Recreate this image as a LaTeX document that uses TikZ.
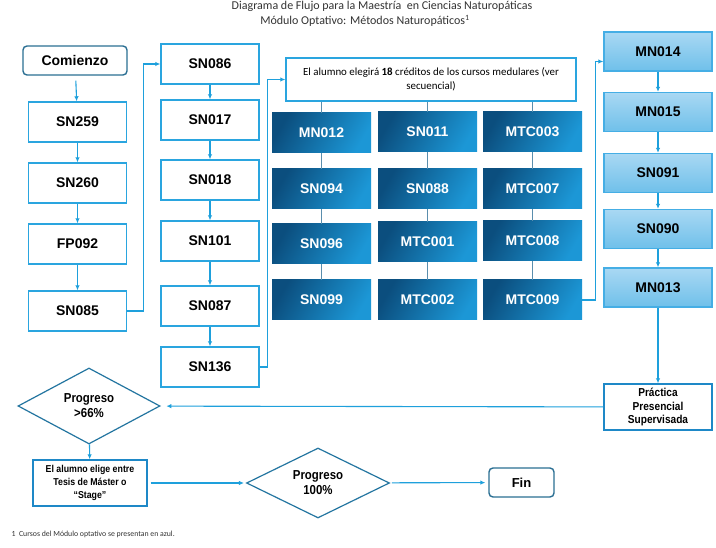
\documentclass[tikz,border=0pt]{standalone}
\usepackage{fontspec}
\setmainfont{Liberation Sans}
\newfontfamily\calibri{Carlito}
\newfontfamily\narrow[FakeStretch=0.88]{Liberation Sans}
\usetikzlibrary{arrows.meta,shapes.geometric}
\definecolor{flowblue}{HTML}{1EA0DC}
\definecolor{boxblue}{HTML}{2AA5DF}
\definecolor{midblue}{HTML}{1E88C7}
\definecolor{termblue}{HTML}{2B6F93}
\definecolor{diablue}{HTML}{2375A0}
\definecolor{deepA}{HTML}{0B4E7E}
\definecolor{deepB}{HTML}{1C97D6}
\definecolor{paleA}{HTML}{A9D8F3}
\definecolor{paleB}{HTML}{6FC0EA}
\definecolor{paleline}{HTML}{45AEE5}
\definecolor{gridline}{HTML}{5A8EAD}
\definecolor{titlegray}{HTML}{333333}

\begin{document}
\begin{tikzpicture}[x=1pt,y=-1pt,
	course/.style={draw=boxblue,line width=1.4pt,fill=white,minimum width=98pt,minimum height=40pt,inner sep=0pt,font=\fontsize{14}{16}\selectfont\bfseries},
	term/.style={course,draw=termblue,rounded corners=4pt,minimum width=104pt,minimum height=29pt},
	core/.style={minimum width=99pt,minimum height=40pt,inner sep=0pt,left color=deepA,right color=deepB,shading angle=60,text=white,font=\fontsize{14}{16}\selectfont\bfseries},
	optional/.style={course,draw=paleline,top color=paleA,bottom color=paleB,minimum width=108pt,minimum height=39pt},
	decision/.style={diamond,aspect=1.87,draw=diablue,line width=1.2pt,fill=white,inner sep=0pt,align=center,font=\narrow\fontsize{13}{15}\selectfont\bfseries},
	flow/.style={draw=flowblue,line width=1.1pt,-{Latex[length=5pt,width=4.5pt]}},
	link/.style={draw=gridline,line width=1pt}]
			%%%%% START %%%%%
			\useasboundingbox[fill=white] (0,0) rectangle (716,548);
			
			\node[font=\calibri\fontsize{12}{14}\selectfont,text=titlegray] (title1) at (382,6) {Diagrama de Flujo para la Maestría\ \ en Ciencias Naturopáticas};
			\node[font=\calibri\fontsize{12}{14}\selectfont,text=titlegray] (title2) at (365,21) {Módulo Optativo: Métodos Naturopáticos\textsuperscript{1}};
			
			% first column
			\node[term] (com) at (75,60.5) {Comienzo};
			\node[course] (sn259) at (77.5,122) {SN259};
			\node[course] (sn260) at (77.5,183) {SN260};
			\node[course] (fp092) at (77.5,244) {FP092};
			\node[course] (sn085) at (77.5,311) {SN085};
			
			\draw[flow,shorten <=5pt] (com) -- (sn259);
			\draw[flow] (sn259) -- (sn260);
			\draw[flow] (sn260) -- (fp092);
			\draw[flow] (fp092) -- (sn085);
			
			% second column
			\node[course] (sn086) at (210,64) {SN086};
			\node[course] (sn017) at (210,120) {SN017};
			\node[course] (sn018) at (210,180) {SN018};
			\node[course] (sn101) at (210,241) {SN101};
			\node[course] (sn087) at (210,306) {SN087};
			\node[course] (sn136) at (210,367) {SN136};
			
			\draw[flow] (sn085.east) -- ++(16,0) |- (sn086.west);
			\draw[flow] (sn086) -- (sn017);
			\draw[flow] (sn017) -- (sn018);
			\draw[flow] (sn018) -- (sn101);
			\draw[flow] (sn101) -- (sn087);
			\draw[flow] (sn087) -- (sn136);
			
			% core courses
			\node[course,minimum width=290pt,minimum height=43pt,align=center,font=\calibri\fontsize{10.9}{14}\selectfont] (hdr) at (431,79.5) {El alumno elegirá \textbf{18} créditos de los cursos medulares (ver\\secuencial)};
			\draw[flow] (sn136.east) -- ++(8,0) |- (hdr.west);
			
			\node[core] (mn012) at (321.5,133) {MN012};
			\node[core] (sn094) at (321.5,189) {SN094};
			\node[core] (sn096) at (321.5,244) {SN096};
			\node[core] (sn099) at (321.5,300) {SN099};
			\node[core] (sn011) at (427.5,132) {SN011};
			\node[core] (sn088) at (427.5,189) {SN088};
			\node[core] (mtc001) at (427.5,242) {MTC001};
			\node[core] (mtc002) at (427.5,300) {MTC002};
			\node[core] (mtc003) at (532.5,132) {MTC003};
			\node[core] (mtc007) at (532.5,189) {MTC007};
			\node[core] (mtc008) at (532.5,241) {MTC008};
			\node[core] (mtc009) at (532.5,300) {MTC009};
			
			\draw[link] (mn012.north |- hdr.south) -- (mn012.north);
			\draw[link] (mn012) -- (sn094);
			\draw[link] (sn094) -- (sn096);
			\draw[link] (sn096) -- (sn099);
			\draw[link] (sn011.north |- hdr.south) -- (sn011.north);
			\draw[link] (sn011) -- (sn088);
			\draw[link] (sn088) -- (mtc001);
			\draw[link] (mtc001) -- (mtc002);
			\draw[link] (mtc003.north |- hdr.south) -- (mtc003.north);
			\draw[link] (mtc003) -- (mtc007);
			\draw[link] (mtc007) -- (mtc008);
			\draw[link] (mtc008) -- (mtc009);
			
			% optional module
			\node[optional] (mn014) at (658,51.5) {MN014};
			\node[optional] (mn015) at (658,112) {MN015};
			\node[optional] (sn091) at (658,173) {SN091};
			\node[optional] (sn090) at (658,229) {SN090};
			\node[optional] (mn013) at (658,287.5) {MN013};
			
			\draw[flow] (mtc009.east) -- ++(13,0) |- ([yshift=-10pt]mn014.west);
			\draw[flow] (mn014) -- (mn015);
			\draw[flow] (mn015) -- (sn091);
			\draw[flow] (sn091) -- (sn090);
			\draw[flow] (sn090) -- (mn013);
			
			\node[course,draw=midblue,minimum width=108pt,minimum height=46pt,align=center,font=\narrow\fontsize{11.5}{13.5}\selectfont\bfseries] (prac) at (658,407) {Práctica\\Presencial\\Supervisada};
			\draw[flow] (mn013) -- (prac);
			
			% end of the programme
			\node[decision,minimum width=142pt,minimum height=76pt] (d66) at (89,406) {Progreso\\>66\%};
			\draw[flow,shorten >=6pt] (prac) -- (d66);
			
			\node[course,draw=midblue,minimum width=114pt,minimum height=46pt,align=center,font=\narrow\fontsize{10}{13}\selectfont\bfseries] (elige) at (90,483) {El alumno elige entre\\Tesis de Máster o\\“Stage”};
			\draw[flow] (d66) -- (elige);
			
			\node[decision,minimum width=143pt,minimum height=70pt] (d100) at (318,483) {Progreso\\100\%};
			\draw[flow,shorten <=3pt,shorten >=2pt] (elige) -- (d100);
			
			\node[term,minimum width=65pt,font=\fontsize{13}{15}\selectfont\bfseries] (fin) at (521.5,482.5) {Fin};
			\draw[flow,shorten <=2pt,shorten >=3pt] (d100) -- (fin);
			
			\node[anchor=west,font=\calibri\fontsize{7.8}{9}\selectfont,text=titlegray] (note) at (8,534) {1\ \ Cursos del Módulo optativo se presentan en azul.};
			%%%%% END %%%%%
		\end{tikzpicture}
\end{document}
